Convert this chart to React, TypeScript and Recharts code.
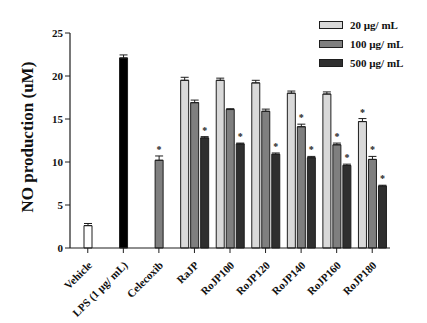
import { BarChart, Bar, XAxis, YAxis, ErrorBar, Cell, LabelList } from 'recharts';

const groups = ['Vehicle', 'LPS (1 µg/ mL)', 'Celecoxib', 'RaJP', 'RoJP100', 'RoJP120', 'RoJP140', 'RoJP160', 'RoJP180'];
const dose20 = [null, null, null, 19.5, 19.5, 19.2, 18.0, 17.9, 14.7];
const dose100 = [2.6, 22.1, 10.2, 16.9, 16.1, 15.9, 14.1, 12.0, 10.3];
const dose500 = [null, null, null, 12.8, 12.1, 10.9, 10.5, 9.6, 7.2];
const err20 = [0, 0, 0, 0.35, 0.25, 0.3, 0.25, 0.25, 0.35];
const err100 = [0.25, 0.35, 0.5, 0.3, 0.1, 0.25, 0.3, 0.2, 0.35];
const err500 = [0, 0, 0, 0.15, 0.1, 0.15, 0.15, 0.15, 0.1];
const sig20 = [false, false, false, false, false, false, false, false, true];
const sig100 = [false, false, true, false, false, false, true, true, true];
const sig500 = [false, false, false, true, true, true, true, true, true];
const yTicks = [0, 5, 10, 15, 20, 25];

// star value = error size when significant, so the label can sit above the whisker
const data = groups.map((name, i) => ({
  name,
  d20: dose20[i],
  d100: dose100[i],
  d500: dose500[i],
  e20: [0, err20[i]],
  e100: [0, err100[i]],
  e500: [0, err500[i]],
  st20: sig20[i] ? err20[i] : null,
  st100: sig100[i] ? err100[i] : null,
  st500: sig500[i] ? err500[i] : null,
}));

const font = '"Liberation Serif", "Times New Roman", serif';
const edge = '#1e1e1e';
const colors = { d20: '#d9d9d9', d100: '#7f7f7f', d500: '#2f2f2f' };
const singleFill = ['#ffffff', '#000000', '#7f7f7f'];
const pxPerUnit = 215 / 25;

const legendItems = [
  { label: '20 µg/ mL', color: colors.d20 },
  { label: '100 µg/ mL', color: colors.d100 },
  { label: '500 µg/ mL', color: colors.d500 },
];

function LegendBox() {
  return (
    <div
      style={{
        position: 'absolute',
        left: 319,
        top: 15,
        fontFamily: font,
        fontWeight: 'bold',
        fontSize: 11,
        color: '#111',
      }}
    >
      {legendItems.map((it) => (
        <div key={it.label} style={{ display: 'flex', alignItems: 'center', height: 19 }}>
          <span
            style={{
              display: 'inline-block',
              width: 22,
              height: 6,
              background: it.color,
              border: `1px solid ${edge}`,
              marginRight: 7,
            }}
          />
          <span>{it.label}</span>
        </div>
      ))}
    </div>
  );
}

function XTick({ x, y, payload }: any) {
  return (
    <text
      x={x + 5}
      y={y + 11}
      textAnchor="end"
      transform={`rotate(-45 ${x + 5} ${y + 11})`}
      fontFamily={font}
      fontWeight="bold"
      fontSize={11}
      fill="#111"
    >
      {payload.value}
    </text>
  );
}

function Star(props: any) {
  const { x, y, width, value } = props;
  if (value === null || value === undefined || value === '') return null;
  return (
    <text
      x={x + width / 2}
      y={y - Number(value) * pxPerUnit - 3}
      textAnchor="middle"
      fontFamily={font}
      fontWeight="bold"
      fontSize={10}
      fill="#222"
    >
      *
    </text>
  );
}

export default function App() {
  return (
    <div style={{ position: 'absolute', left: 0, top: 0, width: 427, height: 323, background: '#fff' }}>
      <BarChart
        width={427}
        height={323}
        data={data}
        margin={{ top: 33, right: 37, left: 20, bottom: 0 }}
        barSize={8}
        barGap={2}
      >
        <XAxis
          dataKey="name"
          interval={0}
          tick={<XTick />}
          tickLine={{ stroke: edge }}
          tickSize={5}
          axisLine={{ stroke: edge, strokeWidth: 1.2 }}
          height={75}
        />
        <YAxis
          domain={[0, 25]}
          ticks={yTicks}
          width={50}
          tickSize={5}
          tickLine={{ stroke: edge }}
          axisLine={{ stroke: edge, strokeWidth: 1.2 }}
          tick={{ fontFamily: font, fontWeight: 'bold', fontSize: 11, fill: '#111' }}
          label={{
            value: 'NO production (uM)',
            angle: -90,
            position: 'insideLeft',
            dx: 2,
            dy: 72,
            style: { fontFamily: font, fontWeight: 'bold', fontSize: 17, fill: '#111' },
          }}
        />
        <Bar dataKey="d20" fill={colors.d20} stroke={edge} strokeWidth={1} isAnimationActive={false}>
          <ErrorBar dataKey="e20" width={4} stroke={edge} strokeWidth={1} direction="y" />
          <LabelList dataKey="st20" content={<Star />} />
        </Bar>
        <Bar dataKey="d100" fill={colors.d100} stroke={edge} strokeWidth={1} isAnimationActive={false}>
          {data.map((_, i) => (
            <Cell key={`c-${i}`} fill={i < 3 ? singleFill[i] : colors.d100} />
          ))}
          <ErrorBar dataKey="e100" width={4} stroke={edge} strokeWidth={1} direction="y" />
          <LabelList dataKey="st100" content={<Star />} />
        </Bar>
        <Bar dataKey="d500" fill={colors.d500} stroke={edge} strokeWidth={1} isAnimationActive={false}>
          <ErrorBar dataKey="e500" width={4} stroke={edge} strokeWidth={1} direction="y" />
          <LabelList dataKey="st500" content={<Star />} />
        </Bar>
      </BarChart>
      <LegendBox />
    </div>
  );
}
